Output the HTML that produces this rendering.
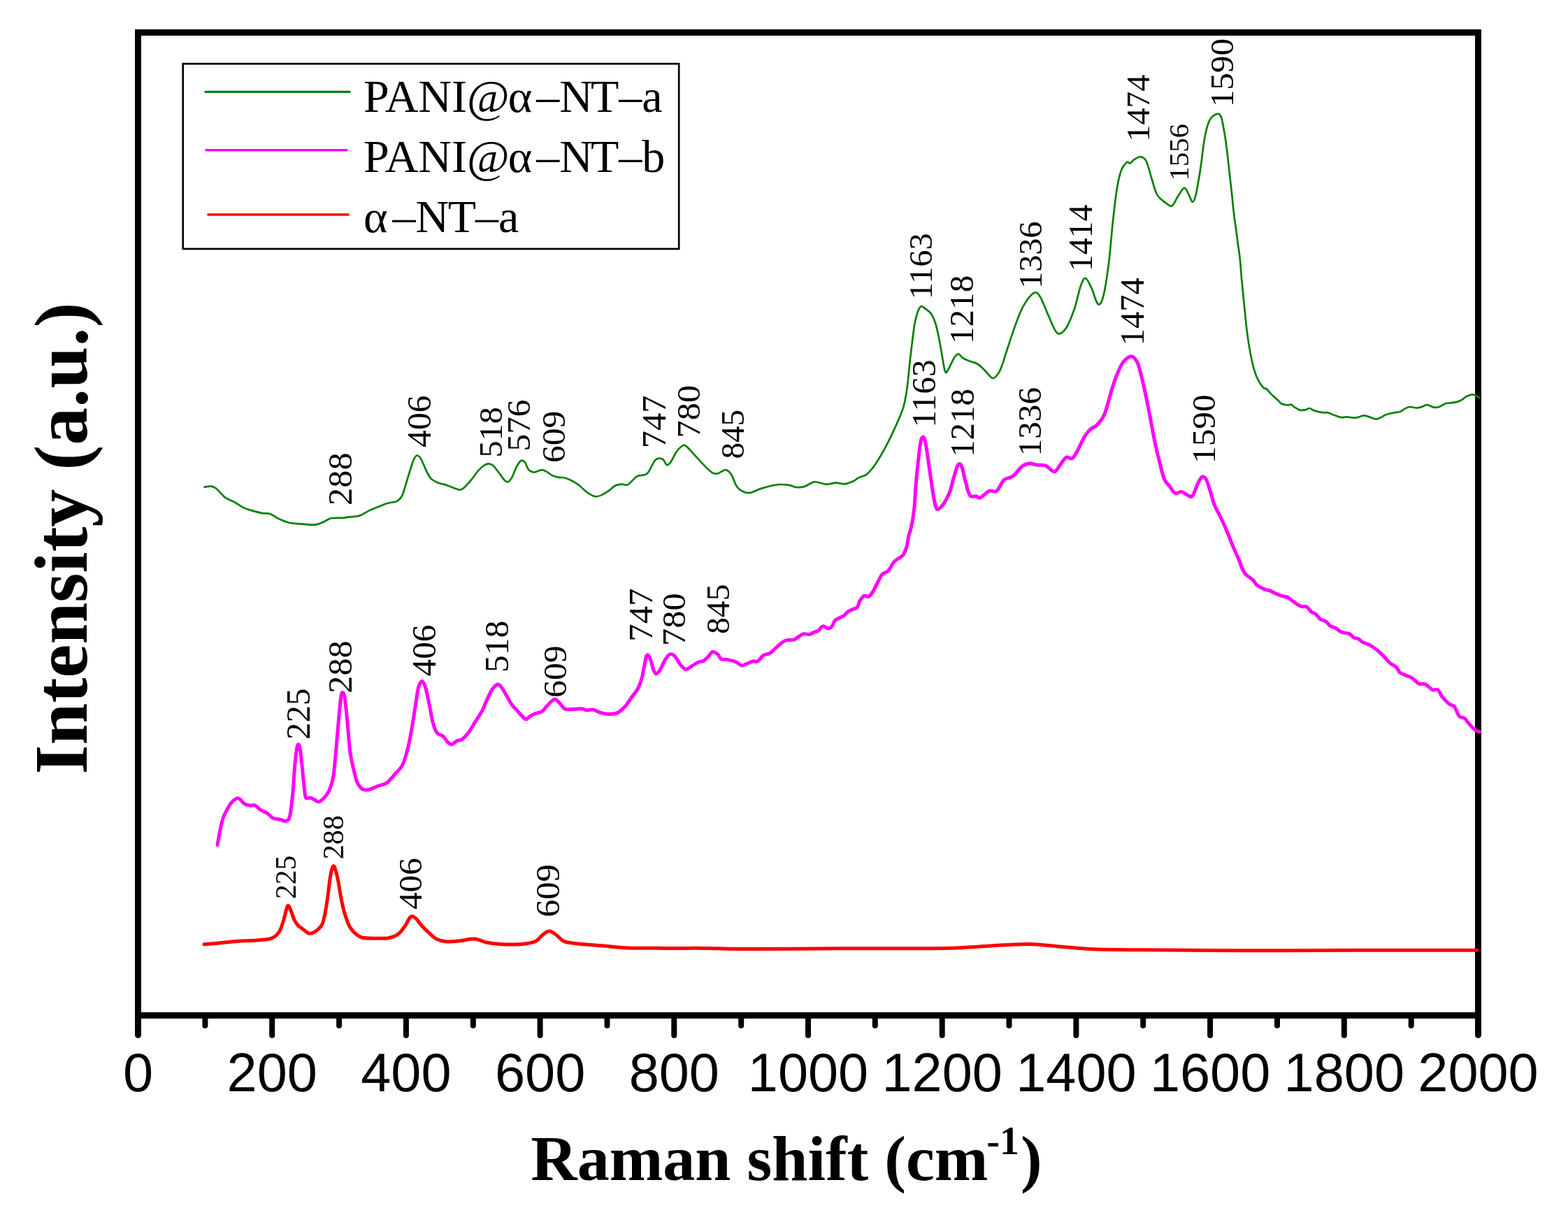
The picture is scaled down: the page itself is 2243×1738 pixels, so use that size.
<!DOCTYPE html>
<html><head><meta charset="utf-8"><title>Raman spectra</title>
<style>
html,body{margin:0;padding:0;background:#fff;}
svg{display:block;}
.tk{font-family:"Liberation Sans",Arial,sans-serif;font-size:77.5px;fill:#000;}
.lb{font-family:"Liberation Serif","Times New Roman",serif;fill:#000;}
.tt{font-family:"Liberation Serif","Times New Roman",serif;font-weight:bold;fill:#000;}
</style></head><body>
<svg width="2243" height="1738" viewBox="0 0 2243 1738">
<rect x="0" y="0" width="2243" height="1738" fill="#fff"/>

<rect x="197.5" y="46.5" width="1917" height="1406" fill="none" stroke="#000" stroke-width="9"/>
<g stroke="#000" stroke-width="8" stroke-linecap="round"><line x1="197.5" y1="1452" x2="197.5" y2="1480.5" stroke-width="9"/><line x1="293.4" y1="1452" x2="293.4" y2="1467" /><line x1="389.2" y1="1452" x2="389.2" y2="1481" /><line x1="485.1" y1="1452" x2="485.1" y2="1467" /><line x1="580.9" y1="1452" x2="580.9" y2="1481" /><line x1="676.8" y1="1452" x2="676.8" y2="1467" /><line x1="772.6" y1="1452" x2="772.6" y2="1481" /><line x1="868.5" y1="1452" x2="868.5" y2="1467" /><line x1="964.3" y1="1452" x2="964.3" y2="1481" /><line x1="1060.2" y1="1452" x2="1060.2" y2="1467" /><line x1="1156.0" y1="1452" x2="1156.0" y2="1481" /><line x1="1251.8" y1="1452" x2="1251.8" y2="1467" /><line x1="1347.7" y1="1452" x2="1347.7" y2="1481" /><line x1="1443.5" y1="1452" x2="1443.5" y2="1467" /><line x1="1539.4" y1="1452" x2="1539.4" y2="1481" /><line x1="1635.2" y1="1452" x2="1635.2" y2="1467" /><line x1="1731.1" y1="1452" x2="1731.1" y2="1481" /><line x1="1827.0" y1="1452" x2="1827.0" y2="1467" /><line x1="1922.8" y1="1452" x2="1922.8" y2="1481" /><line x1="2018.7" y1="1452" x2="2018.7" y2="1467" /><line x1="2114.5" y1="1452" x2="2114.5" y2="1480.5" stroke-width="9"/></g>
<g class="tk"><text x="197.5" y="1561" text-anchor="middle">0</text><text x="389.2" y="1561" text-anchor="middle">200</text><text x="580.9" y="1561" text-anchor="middle">400</text><text x="772.6" y="1561" text-anchor="middle">600</text><text x="964.3" y="1561" text-anchor="middle">800</text><text x="1156.0" y="1561" text-anchor="middle">1000</text><text x="1347.7" y="1561" text-anchor="middle">1200</text><text x="1539.4" y="1561" text-anchor="middle">1400</text><text x="1731.1" y="1561" text-anchor="middle">1600</text><text x="1922.8" y="1561" text-anchor="middle">1800</text><text x="2114.5" y="1561" text-anchor="middle">2000</text></g>
<path d="M291.9,1350.8C294.5,1350.6 301.9,1350.1 307.5,1349.6C313.1,1349.1 319.7,1348.3 325.8,1347.7C331.9,1347.1 338.0,1346.3 344.1,1345.9C350.2,1345.5 356.6,1345.8 362.4,1345.5C368.2,1345.2 374.6,1344.6 378.9,1344.1C383.2,1343.5 385.4,1343.3 388.1,1342.2C390.9,1341.1 393.3,1339.7 395.4,1337.7C397.5,1335.7 399.1,1334.3 400.9,1330.3C402.7,1326.3 405.0,1318.4 406.4,1313.8C407.8,1309.2 408.2,1306.0 409.1,1302.9C410.0,1299.9 410.8,1295.8 411.9,1295.5C413.0,1295.2 414.0,1297.6 415.5,1301.0C417.0,1304.4 419.2,1311.9 421.0,1315.7C422.8,1319.5 424.4,1321.6 426.5,1323.9C428.6,1326.2 431.4,1327.6 433.8,1329.4C436.2,1331.2 438.8,1334.1 441.2,1334.9C443.6,1335.7 446.1,1335.1 448.5,1334.0C450.9,1332.9 453.7,1330.6 455.8,1328.5C457.9,1326.4 459.8,1324.9 461.3,1321.2C462.8,1317.5 463.8,1312.6 465.0,1306.5C466.2,1300.4 467.4,1293.0 468.6,1284.5C469.8,1276.0 471.2,1262.2 472.3,1255.2C473.4,1248.2 474.2,1245.1 475.1,1242.4C476.0,1239.7 476.5,1238.2 477.4,1238.8C478.3,1239.4 479.4,1242.1 480.5,1246.1C481.6,1250.1 483.0,1256.2 484.2,1262.6C485.4,1269.0 486.5,1277.5 487.9,1284.5C489.3,1291.5 490.5,1298.0 492.5,1304.7C494.5,1311.4 497.1,1319.6 499.8,1324.8C502.5,1330.0 505.8,1333.0 508.9,1335.8C511.9,1338.5 513.5,1340.2 518.1,1341.3C522.7,1342.4 530.3,1342.1 536.4,1342.2C542.5,1342.3 549.8,1342.5 554.7,1341.9C559.6,1341.3 562.7,1340.1 565.7,1338.6C568.8,1337.1 570.5,1335.7 573.0,1333.1C575.5,1330.5 577.9,1326.7 580.4,1323.0C582.9,1319.3 585.3,1312.6 587.7,1311.1C590.1,1309.6 592.6,1311.8 595.0,1313.8C597.4,1315.8 599.2,1319.6 602.3,1323.0C605.3,1326.4 609.6,1330.7 613.3,1334.0C617.0,1337.3 620.3,1341.0 624.3,1343.1C628.3,1345.2 631.5,1346.3 637.1,1346.8C642.7,1347.2 651.1,1346.4 658.0,1345.8C664.9,1345.2 671.9,1342.7 678.3,1343.1C684.7,1343.5 690.5,1347.0 696.6,1348.2C702.7,1349.4 708.8,1349.9 714.9,1350.4C721.0,1350.9 727.2,1351.1 733.3,1351.0C739.4,1350.9 746.1,1350.8 751.6,1350.0C757.1,1349.2 762.2,1348.4 766.2,1346.4C770.2,1344.4 772.2,1340.5 775.4,1338.1C778.6,1335.7 782.1,1332.2 785.5,1332.1C788.9,1331.9 792.0,1334.8 795.5,1337.2C799.0,1339.6 801.6,1344.3 806.5,1346.4C811.4,1348.5 815.6,1348.6 824.8,1349.7C834.0,1350.8 849.3,1351.8 861.5,1352.8C873.7,1353.8 882.9,1355.3 898.1,1355.9C913.4,1356.5 934.7,1356.3 953.0,1356.4C971.3,1356.5 990.2,1356.2 1008.0,1356.4C1025.8,1356.6 1028.5,1357.4 1060.0,1357.5C1091.5,1357.6 1157.8,1356.9 1197.0,1356.8C1236.2,1356.7 1266.4,1356.9 1295.0,1356.8C1323.6,1356.7 1348.1,1356.6 1368.5,1355.9C1388.9,1355.2 1400.3,1353.8 1417.5,1352.9C1434.7,1352.0 1455.1,1350.3 1471.4,1350.5C1487.7,1350.7 1500.0,1352.7 1515.5,1353.9C1531.0,1355.1 1544.1,1357.0 1564.5,1357.8C1584.9,1358.6 1601.2,1358.5 1638.0,1358.8C1674.8,1359.1 1736.0,1359.7 1785.0,1359.8C1834.0,1359.9 1877.3,1359.4 1932.0,1359.3C1986.7,1359.2 2083.0,1359.3 2113.2,1359.3" fill="none" stroke="#ff0000" stroke-width="5" stroke-linejoin="round" stroke-linecap="round"/>
<path d="M311.1,1208.5C311.6,1205.7 312.9,1197.3 314.1,1191.4C315.3,1185.5 316.8,1178.0 318.1,1173.3C319.4,1168.6 320.1,1167.3 322.1,1163.3C324.1,1159.3 327.5,1152.7 330.2,1149.2C332.9,1145.7 336.0,1143.2 338.2,1142.2C340.4,1141.2 341.2,1141.9 343.2,1143.2C345.2,1144.5 347.8,1148.7 350.3,1150.2C352.8,1151.7 355.8,1151.9 358.3,1152.2C360.8,1152.5 363.0,1151.2 365.3,1152.2C367.6,1153.2 369.5,1156.5 372.4,1158.3C375.2,1160.1 379.4,1161.3 382.4,1163.3C385.4,1165.3 387.5,1168.8 390.5,1170.3C393.5,1171.8 397.3,1171.6 400.5,1172.3C403.7,1173.0 407.1,1175.1 409.5,1174.3C411.9,1173.5 413.1,1173.5 414.6,1167.3C416.1,1161.1 417.4,1148.9 418.6,1137.2C419.8,1125.5 420.6,1108.0 421.6,1097.0C422.6,1086.0 423.7,1076.3 424.6,1070.9C425.5,1065.5 426.2,1064.5 427.0,1064.8C427.8,1065.1 428.7,1066.9 429.6,1072.9C430.5,1078.9 431.6,1091.3 432.6,1101.0C433.6,1110.7 434.9,1124.4 435.7,1131.1C436.5,1137.8 436.4,1139.5 437.7,1141.2C439.0,1142.9 441.9,1140.9 443.7,1141.2C445.5,1141.5 446.7,1142.3 448.7,1143.2C450.7,1144.1 453.3,1147.0 455.7,1146.8C458.1,1146.6 460.3,1144.8 462.8,1142.2C465.3,1139.6 468.5,1136.3 470.8,1131.1C473.1,1125.9 475.1,1121.0 476.8,1111.0C478.5,1101.0 479.5,1085.3 480.9,1070.9C482.2,1056.5 483.7,1037.1 484.9,1024.7C486.1,1012.3 487.0,1002.2 487.9,996.5C488.8,990.8 489.4,990.2 490.3,990.5C491.2,990.8 492.2,991.5 493.3,998.5C494.4,1005.5 495.6,1019.6 496.9,1032.7C498.2,1045.8 499.5,1065.5 501.0,1076.9C502.5,1088.3 504.3,1094.0 506.0,1101.0C507.7,1108.0 508.8,1114.4 511.0,1119.1C513.2,1123.8 516.0,1127.4 519.0,1129.1C522.0,1130.8 525.4,1129.9 529.1,1129.1C532.8,1128.3 537.1,1125.6 541.1,1124.1C545.1,1122.6 549.2,1122.9 553.2,1120.1C557.2,1117.2 561.5,1111.2 565.2,1107.0C568.9,1102.8 572.3,1101.0 575.3,1095.0C578.3,1089.0 581.0,1080.0 583.3,1070.9C585.6,1061.9 587.4,1051.1 589.3,1040.7C591.1,1030.3 592.9,1018.0 594.4,1008.6C595.9,999.2 596.9,990.2 598.4,984.5C599.9,978.8 601.7,974.7 603.4,974.4C605.1,974.1 606.7,977.5 608.4,982.5C610.1,987.5 611.6,995.9 613.5,1004.6C615.4,1013.3 617.5,1027.3 619.5,1034.7C621.5,1042.1 623.2,1045.8 625.5,1048.8C627.8,1051.8 631.0,1050.6 633.5,1052.8C636.0,1055.0 638.4,1059.8 640.6,1061.8C642.8,1063.8 644.4,1065.1 646.6,1064.8C648.8,1064.5 651.2,1061.0 653.6,1059.8C656.0,1058.6 658.0,1059.6 660.7,1057.8C663.4,1056.0 666.5,1053.0 669.7,1048.8C672.9,1044.6 676.5,1037.9 679.8,1032.7C683.0,1027.5 686.4,1023.0 689.2,1017.8C692.0,1012.6 694.1,1006.5 696.5,1001.3C698.9,996.1 701.4,990.4 703.8,986.7C706.2,983.0 709.0,980.1 711.1,979.3C713.2,978.5 714.5,979.6 716.6,982.1C718.8,984.6 721.5,989.9 724.0,994.0C726.5,998.1 728.9,1003.3 731.3,1006.8C733.7,1010.3 736.2,1012.4 738.6,1015.1C741.0,1017.9 743.6,1021.0 745.9,1023.3C748.2,1025.6 750.1,1028.6 752.3,1028.8C754.4,1029.0 756.5,1025.6 758.8,1024.2C761.1,1022.8 763.4,1021.6 766.1,1020.5C768.8,1019.4 772.5,1019.6 775.2,1017.8C778.0,1016.0 780.2,1012.2 782.6,1009.6C785.0,1007.0 787.9,1003.7 789.9,1002.2C791.9,1000.7 792.7,999.8 794.5,1000.4C796.3,1001.0 798.6,1003.6 800.9,1005.9C803.2,1008.2 805.5,1012.7 808.2,1014.1C811.0,1015.5 813.4,1014.5 817.4,1014.5C821.4,1014.5 828.4,1013.5 832.0,1013.8C835.6,1014.0 836.5,1015.8 839.3,1016.0C842.0,1016.2 845.1,1014.5 848.5,1015.1C851.9,1015.7 855.8,1018.5 859.5,1019.6C863.2,1020.7 866.5,1021.5 870.5,1021.5C874.5,1021.5 879.3,1021.4 883.3,1019.6C887.3,1017.8 890.9,1014.1 894.3,1010.5C897.6,1006.9 900.3,1002.0 903.4,997.7C906.5,993.4 910.1,989.4 912.6,984.8C915.1,980.2 916.6,975.7 918.1,970.2C919.6,964.7 920.7,957.1 921.8,951.9C922.9,946.7 923.6,941.5 924.5,939.0C925.4,936.5 926.2,936.3 927.3,937.2C928.4,938.1 929.7,941.1 930.9,944.5C932.1,947.9 933.4,954.2 934.6,957.4C935.8,960.6 936.7,963.5 938.2,963.8C939.7,964.1 941.6,962.4 943.7,959.2C945.9,956.0 948.8,948.3 951.1,944.5C953.4,940.7 955.4,937.5 957.5,936.3C959.6,935.1 961.9,935.8 963.9,937.2C965.9,938.6 967.6,941.9 969.4,944.5C971.2,947.1 972.9,950.6 974.9,952.8C976.9,954.9 978.9,957.4 981.3,957.4C983.7,957.4 986.6,954.5 989.5,952.8C992.4,951.1 996.0,948.5 998.7,947.3C1001.5,946.1 1003.6,946.9 1006.0,945.5C1008.4,944.1 1011.2,941.1 1013.3,939.0C1015.4,936.9 1016.6,933.2 1018.8,932.6C1020.9,932.0 1024.1,933.7 1026.2,935.4C1028.3,937.1 1029.2,941.3 1031.6,942.7C1034.0,944.1 1037.4,943.0 1040.8,943.6C1044.2,944.2 1048.4,945.0 1051.8,946.4C1055.2,947.8 1058.2,951.3 1060.9,951.9C1063.6,952.5 1065.0,950.7 1067.7,949.7C1070.4,948.7 1074.2,946.5 1076.9,945.9C1079.6,945.3 1081.2,947.3 1083.8,945.9C1086.4,944.5 1089.3,939.3 1092.3,937.4C1095.2,935.5 1098.7,936.0 1101.5,934.4C1104.3,932.8 1106.6,929.8 1109.2,927.5C1111.8,925.2 1114.4,922.4 1116.9,920.5C1119.5,918.6 1121.4,916.8 1124.5,915.9C1127.6,915.0 1132.2,916.1 1135.3,915.2C1138.4,914.3 1140.7,911.9 1143.0,910.5C1145.3,909.1 1146.5,907.2 1149.1,906.7C1151.7,906.2 1155.8,907.9 1158.4,907.5C1161.0,907.1 1162.5,905.3 1164.5,904.4C1166.5,903.5 1168.5,903.5 1170.6,902.1C1172.6,900.7 1174.3,896.4 1176.8,895.9C1179.2,895.4 1183.0,899.1 1185.3,899.0C1187.6,898.9 1189.1,897.1 1190.6,895.2C1192.1,893.3 1192.7,889.4 1194.5,887.5C1196.3,885.6 1199.2,884.8 1201.4,883.6C1203.6,882.5 1205.5,882.1 1207.5,880.6C1209.5,879.1 1211.5,875.9 1213.7,874.4C1215.9,872.9 1218.4,872.4 1220.6,871.4C1222.8,870.4 1225.2,870.2 1226.7,868.3C1228.2,866.4 1228.1,862.5 1229.8,859.8C1231.5,857.1 1234.7,853.1 1236.7,852.1C1238.8,851.1 1240.0,854.7 1242.1,853.7C1244.1,852.7 1246.8,849.3 1249.0,846.0C1251.2,842.7 1253.0,837.8 1255.2,833.7C1257.4,829.6 1259.5,824.2 1262.1,821.4C1264.6,818.6 1267.8,819.6 1270.5,816.8C1273.2,814.0 1275.6,807.6 1278.2,804.5C1280.8,801.4 1283.6,800.2 1285.9,798.4C1288.2,796.6 1290.3,796.3 1292.1,793.7C1293.9,791.1 1295.4,787.4 1296.7,783.0C1298.0,778.6 1298.7,772.0 1299.7,767.6C1300.7,763.2 1301.8,761.2 1302.8,756.9C1303.8,752.5 1305.0,747.1 1305.9,741.5C1306.8,735.9 1307.6,730.0 1308.2,723.1C1308.8,716.2 1309.1,708.1 1309.7,700.0C1310.3,691.9 1310.8,685.5 1311.9,674.6C1313.1,663.7 1315.2,642.7 1316.6,634.4C1318.0,626.1 1318.9,625.4 1320.1,625.0C1321.3,624.6 1322.3,625.7 1323.7,632.0C1325.1,638.3 1326.6,651.0 1328.4,662.8C1330.2,674.6 1332.6,692.7 1334.3,703.0C1336.0,713.3 1337.1,720.6 1338.5,724.7C1339.9,728.9 1340.7,729.0 1342.8,727.9C1344.9,726.8 1348.6,722.4 1351.3,718.3C1354.0,714.2 1356.6,709.1 1358.7,703.4C1360.8,697.7 1362.0,690.7 1364.0,684.3C1366.0,677.9 1368.5,668.0 1370.4,665.1C1372.4,662.2 1373.9,663.3 1375.7,667.2C1377.5,671.1 1379.1,681.6 1381.1,688.5C1383.0,695.4 1384.9,705.2 1387.4,708.7C1389.9,712.2 1393.5,709.3 1396.0,709.8C1398.5,710.3 1399.1,713.1 1402.3,711.9C1405.5,710.6 1411.2,703.9 1415.1,702.3C1419.0,700.7 1422.2,704.9 1425.7,702.3C1429.2,699.6 1432.5,689.9 1436.4,686.4C1440.3,682.9 1444.8,684.3 1449.1,681.1C1453.3,677.9 1458.0,670.2 1461.9,667.2C1465.8,664.2 1469.0,663.4 1472.6,663.0C1476.1,662.6 1479.3,664.6 1483.2,665.1C1487.1,665.6 1491.9,664.6 1496.0,666.2C1500.1,667.8 1504.5,674.5 1507.7,674.7C1510.9,674.9 1512.3,670.6 1515.1,667.2C1517.9,663.8 1521.5,656.5 1524.7,654.5C1527.9,652.5 1531.3,657.6 1534.3,655.5C1537.3,653.4 1540.0,646.8 1542.8,641.7C1545.6,636.6 1548.5,629.3 1551.3,624.7C1554.1,620.1 1557.0,616.7 1559.8,614.0C1562.6,611.3 1565.1,611.9 1568.3,608.7C1571.5,605.5 1576.1,600.4 1578.9,594.9C1581.7,589.4 1583.3,582.1 1585.3,575.7C1587.2,569.3 1588.5,563.3 1590.6,556.6C1592.7,549.9 1595.4,541.7 1598.1,535.3C1600.8,528.9 1603.2,522.5 1606.6,518.3C1610.0,514.0 1614.9,509.8 1618.3,509.8C1621.7,509.8 1624.5,514.0 1626.8,518.3C1629.1,522.5 1630.1,527.8 1632.1,535.3C1634.0,542.8 1636.4,553.1 1638.5,563.0C1640.6,572.9 1642.8,583.9 1644.9,594.9C1647.0,605.9 1649.2,618.6 1651.3,628.9C1653.4,639.2 1655.4,647.4 1657.7,656.6C1660.0,665.8 1662.6,677.9 1665.1,684.3C1667.6,690.7 1669.9,691.4 1672.6,694.9C1675.3,698.4 1678.3,704.1 1681.1,705.5C1683.9,706.9 1686.8,703.0 1689.6,703.4C1692.4,703.8 1695.4,706.6 1698.1,707.7C1700.8,708.8 1703.0,712.3 1705.5,709.8C1708.0,707.3 1710.7,697.4 1713.0,692.8C1715.3,688.2 1717.3,683.2 1719.4,682.1C1721.5,681.0 1723.6,682.5 1725.7,686.4C1727.8,690.3 1730.1,699.5 1732.1,705.5C1734.0,711.5 1734.9,716.6 1737.4,722.6C1739.9,728.6 1744.0,735.3 1747.0,741.7C1750.0,748.1 1752.7,754.2 1755.5,760.9C1758.3,767.6 1761.2,775.4 1764.0,782.1C1766.8,788.8 1770.5,796.3 1772.6,801.3C1774.7,806.3 1774.8,808.6 1776.4,812.0C1778.0,815.4 1779.3,818.7 1782.0,821.6C1784.7,824.5 1789.7,827.1 1792.4,829.6C1795.1,832.1 1795.0,834.6 1798.0,836.9C1801.0,839.2 1807.0,842.0 1810.1,843.3C1813.2,844.6 1814.1,844.0 1816.5,844.9C1818.9,845.8 1821.6,847.6 1824.5,848.9C1827.4,850.2 1831.2,851.7 1834.1,852.6C1837.0,853.5 1839.2,853.0 1842.1,854.5C1845.0,856.0 1848.5,859.6 1851.7,861.7C1854.9,863.8 1858.3,866.2 1861.3,867.3C1864.2,868.4 1867.0,866.8 1869.4,868.1C1871.8,869.4 1873.7,873.6 1875.8,875.3C1877.9,877.0 1880.1,876.8 1882.2,878.5C1884.3,880.2 1886.2,884.0 1888.6,885.7C1891.0,887.4 1894.2,887.3 1896.6,888.9C1899.0,890.5 1900.6,893.8 1903.0,895.4C1905.4,897.0 1908.3,897.1 1911.0,898.6C1913.7,900.1 1915.8,902.9 1919.0,904.2C1922.2,905.5 1927.3,905.3 1930.3,906.6C1933.2,907.9 1934.6,911.0 1936.7,912.2C1938.8,913.4 1941.0,912.7 1943.1,913.8C1945.2,914.9 1947.1,917.3 1949.5,918.6C1951.9,919.9 1954.8,920.5 1957.5,921.8C1960.2,923.1 1962.6,924.5 1965.5,926.6C1968.4,928.7 1972.4,932.2 1975.1,934.6C1977.8,937.0 1979.3,938.7 1981.5,941.0C1983.7,943.3 1985.3,945.9 1988.0,948.2C1990.7,950.5 1995.2,952.3 1997.6,954.6C2000.0,956.9 2000.3,960.0 2002.4,961.9C2004.5,963.8 2007.5,964.6 2010.4,965.9C2013.3,967.2 2016.8,967.9 2020.0,969.9C2023.2,971.9 2026.4,976.4 2029.6,977.9C2032.8,979.4 2036.0,977.2 2039.2,978.7C2042.4,980.2 2045.9,985.4 2048.8,986.7C2051.8,988.0 2054.5,985.0 2056.9,986.7C2059.3,988.4 2060.6,993.8 2063.3,997.1C2066.0,1000.4 2070.0,1004.3 2072.9,1006.7C2075.8,1009.1 2078.5,1008.5 2080.9,1011.5C2083.3,1014.5 2084.9,1021.7 2087.3,1024.4C2089.7,1027.1 2092.9,1025.7 2095.3,1027.6C2097.7,1029.5 2099.3,1032.9 2101.7,1035.6C2104.1,1038.3 2107.3,1041.7 2109.7,1043.6C2112.1,1045.5 2115.1,1046.3 2116.2,1046.8" fill="none" stroke="#ff00ff" stroke-width="5" stroke-linejoin="round" stroke-linecap="round"/>
<path d="M292.5,696.6C294.1,696.4 299.2,695.2 302.0,695.6C304.8,696.0 305.9,696.1 309.3,698.8C312.7,701.5 317.8,708.4 322.1,711.6C326.4,714.8 330.7,715.6 335.0,718.0C339.3,720.4 343.8,723.9 347.8,725.9C351.8,727.9 354.2,728.5 358.8,729.9C363.4,731.3 370.6,733.2 375.2,734.1C379.8,735.0 382.2,733.6 386.2,735.0C390.2,736.4 394.4,740.2 399.0,742.3C403.6,744.4 409.1,746.6 413.7,747.7C418.3,748.8 421.9,748.7 426.5,749.1C431.1,749.5 436.9,750.2 441.2,750.4C445.5,750.6 448.5,751.1 452.2,750.4C455.9,749.7 459.5,747.9 463.2,746.4C466.9,744.9 469.5,742.1 474.1,741.2C478.7,740.3 486.3,741.2 490.6,740.9C494.9,740.6 495.8,739.9 499.8,739.4C503.8,738.9 509.5,739.2 514.4,737.6C519.3,736.0 524.2,732.2 529.1,729.9C534.0,727.6 539.4,725.7 543.7,724.0C548.0,722.3 550.7,720.9 554.7,719.8C558.7,718.6 564.1,718.8 567.5,717.1C570.9,715.4 572.8,713.7 574.9,709.7C577.0,705.7 578.3,700.0 580.4,693.3C582.5,686.6 585.7,675.6 587.7,669.5C589.7,663.4 590.8,659.6 592.3,656.6C593.8,653.6 594.8,651.5 596.5,651.5C598.2,651.5 600.1,653.0 602.3,656.6C604.5,660.2 607.4,668.5 609.7,673.1C612.0,677.7 613.4,681.2 616.1,684.1C618.9,687.0 623.0,689.0 626.2,690.5C629.4,692.0 631.9,691.8 635.3,692.9C638.6,694.0 642.6,695.6 646.3,696.9C650.0,698.2 654.2,700.6 657.3,700.6C660.3,700.6 661.7,699.4 664.6,696.9C667.5,694.4 671.5,689.5 674.7,685.6C677.9,681.7 680.9,677.0 683.8,673.7C686.7,670.4 689.5,667.7 692.0,666.0C694.5,664.3 696.4,663.4 698.5,663.3C700.6,663.2 702.5,663.5 704.9,665.5C707.3,667.5 710.4,672.0 713.1,675.5C715.9,679.0 719.1,684.2 721.4,686.5C723.7,688.8 725.0,689.9 726.8,689.3C728.6,688.7 730.3,686.4 732.3,682.9C734.3,679.4 736.6,672.2 738.8,668.2C740.9,664.2 743.2,660.2 745.2,659.0C747.2,657.8 748.9,658.8 750.7,660.9C752.5,663.0 754.1,669.5 756.2,671.9C758.3,674.3 761.2,675.2 763.5,675.5C765.8,675.8 767.9,674.2 769.9,673.7C771.9,673.2 773.4,672.1 775.4,672.2C777.4,672.4 779.4,673.3 781.8,674.6C784.2,675.9 787.1,678.7 790.0,680.1C792.9,681.5 796.5,682.4 799.2,682.9C802.0,683.4 803.8,682.6 806.5,683.2C809.2,683.8 812.3,684.9 815.7,686.5C819.1,688.1 823.7,690.8 826.7,692.9C829.8,695.0 831.2,697.0 834.0,699.3C836.8,701.6 840.2,704.9 843.2,706.7C846.2,708.5 849.2,710.1 852.3,710.3C855.3,710.4 858.5,709.0 861.5,707.6C864.5,706.2 867.6,704.2 870.6,702.1C873.6,700.0 876.8,696.4 879.8,694.8C882.8,693.2 886.0,692.8 888.9,692.6C891.8,692.4 894.8,694.5 897.2,693.8C899.7,693.1 901.2,690.5 903.6,688.4C906.0,686.3 908.8,682.5 911.8,681.0C914.8,679.5 919.3,680.1 921.9,679.2C924.5,678.3 924.9,678.9 927.4,675.5C929.9,672.1 934.1,662.3 936.6,659.0C939.1,655.7 940.1,656.1 942.1,655.8C944.1,655.5 946.5,655.7 948.5,657.2C950.5,658.8 952.2,664.5 954.0,665.1C955.8,665.7 957.2,664.0 959.5,660.9C961.8,657.8 964.8,650.1 967.7,646.2C970.6,642.3 974.4,638.6 976.8,637.4C979.2,636.2 979.2,636.4 982.3,638.9C985.4,641.4 990.9,648.0 995.2,652.6C999.5,657.2 1004.0,662.4 1008.0,666.4C1012.0,670.4 1016.0,674.6 1019.0,676.4C1022.0,678.2 1023.9,677.8 1026.3,677.4C1028.7,677.0 1031.5,674.6 1033.6,673.7C1035.7,672.8 1037.0,671.3 1039.1,672.2C1041.2,673.1 1044.0,675.3 1046.4,679.2C1048.9,683.1 1051.1,691.7 1053.8,695.7C1056.5,699.7 1059.3,701.5 1062.5,703.0C1065.7,704.5 1069.0,705.5 1073.1,704.9C1077.2,704.3 1082.2,701.1 1087.3,699.4C1092.4,697.7 1099.1,695.8 1103.8,694.7C1108.5,693.6 1111.4,693.1 1115.7,693.0C1120.0,692.9 1125.9,693.5 1129.8,694.2C1133.7,694.9 1135.8,696.8 1139.3,697.1C1142.8,697.4 1146.8,697.2 1151.1,695.9C1155.4,694.6 1160.2,689.8 1165.3,689.3C1170.4,688.8 1176.7,692.6 1181.8,692.8C1186.9,693.0 1191.7,690.8 1196.0,690.7C1200.3,690.6 1203.8,692.6 1207.8,692.3C1211.8,692.0 1216.2,690.4 1219.7,688.8C1223.2,687.2 1225.9,684.5 1229.1,682.9C1232.2,681.3 1235.4,681.5 1238.6,679.3C1241.8,677.1 1244.8,673.8 1248.0,669.9C1251.2,666.0 1254.3,660.8 1257.5,655.7C1260.7,650.6 1263.8,645.0 1267.0,639.1C1270.2,633.2 1273.2,626.9 1276.4,620.2C1279.6,613.5 1283.1,605.7 1285.9,599.0C1288.7,592.3 1291.0,587.5 1293.0,580.0C1295.0,572.5 1296.3,563.9 1297.7,554.0C1299.1,544.1 1300.0,531.5 1301.2,520.9C1302.4,510.3 1303.6,499.6 1304.8,490.2C1306.0,480.8 1306.9,471.7 1308.3,464.2C1309.7,456.7 1311.5,449.6 1313.1,445.3C1314.7,441.0 1316.0,438.8 1317.8,438.2C1319.6,437.6 1321.3,439.9 1323.7,441.7C1326.1,443.5 1329.6,445.4 1332.0,448.8C1334.4,452.2 1336.1,456.5 1337.9,461.8C1339.7,467.1 1341.0,473.3 1342.6,480.8C1344.2,488.3 1345.7,498.3 1347.3,506.8C1348.9,515.3 1350.5,528.1 1352.1,531.6C1353.7,535.1 1354.6,531.4 1356.8,528.0C1359.0,524.6 1362.7,515.1 1365.1,511.5C1367.5,507.9 1368.8,506.1 1371.0,506.3C1373.2,506.5 1375.3,511.0 1378.1,512.7C1380.8,514.4 1384.2,515.4 1387.5,516.7C1390.8,518.0 1394.7,518.3 1398.2,520.5C1401.8,522.7 1405.2,526.5 1408.8,529.9C1412.4,533.3 1416.8,540.5 1420.1,541.0C1423.4,541.5 1426.5,536.5 1428.9,532.8C1431.4,529.1 1433.2,522.9 1434.8,518.6C1436.4,514.3 1435.8,515.1 1438.4,507.0C1441.1,498.9 1446.6,481.4 1450.7,470.1C1454.8,458.8 1458.4,447.8 1463.0,439.4C1467.6,430.9 1474.3,422.0 1478.4,419.4C1482.5,416.8 1484.0,418.6 1487.6,424.0C1491.2,429.4 1495.8,443.0 1499.9,451.7C1504.0,460.4 1508.1,473.2 1512.2,476.3C1516.3,479.4 1520.4,475.7 1524.5,470.1C1528.6,464.5 1533.1,452.7 1536.7,442.5C1540.3,432.3 1543.3,416.1 1546.0,408.7C1548.7,401.3 1550.2,397.4 1552.7,397.9C1555.2,398.4 1558.3,405.5 1561.3,411.7C1564.3,417.9 1567.7,432.8 1570.5,434.8C1573.3,436.9 1575.6,433.5 1578.2,424.0C1580.8,414.5 1583.6,395.8 1585.9,377.9C1588.2,360.0 1590.0,334.9 1592.0,316.5C1594.0,298.1 1596.2,279.6 1598.2,267.3C1600.2,255.0 1602.0,248.7 1604.3,242.8C1606.6,236.9 1610.0,233.6 1612.0,232.0C1614.0,230.4 1614.8,234.2 1616.6,233.5C1618.4,232.8 1620.2,229.5 1622.8,228.0C1625.4,226.5 1629.2,223.9 1632.0,224.3C1634.8,224.7 1637.2,225.4 1639.7,230.5C1642.2,235.6 1644.8,247.1 1647.3,255.0C1649.8,262.9 1651.9,272.5 1655.0,278.1C1658.1,283.7 1662.2,286.1 1665.8,288.8C1669.4,291.5 1673.2,295.9 1676.5,294.4C1679.8,292.9 1682.7,283.9 1685.7,279.6C1688.7,275.4 1691.7,268.9 1694.3,268.9C1696.9,268.9 1699.2,276.3 1701.1,279.6C1703.0,282.9 1704.4,288.8 1705.9,288.9C1707.4,289.0 1708.8,285.4 1710.3,280.0C1711.8,274.6 1713.4,264.3 1714.8,256.4C1716.2,248.5 1717.4,240.7 1718.5,232.8C1719.6,224.9 1720.4,216.0 1721.4,209.1C1722.4,202.2 1723.3,196.7 1724.4,191.4C1725.5,186.1 1726.8,181.1 1728.1,177.3C1729.4,173.5 1730.8,170.7 1732.5,168.5C1734.2,166.3 1736.6,164.9 1738.4,164.0C1740.2,163.1 1742.1,162.2 1743.6,163.0C1745.1,163.8 1746.2,165.2 1747.3,168.5C1748.4,171.8 1749.2,177.2 1750.2,182.5C1751.2,187.8 1752.2,193.3 1753.2,200.2C1754.2,207.1 1755.2,215.5 1756.2,223.9C1757.2,232.3 1758.1,241.6 1759.1,250.5C1760.1,259.4 1761.1,268.0 1762.1,277.1C1763.1,286.2 1764.0,296.8 1765.0,305.2C1766.0,313.6 1767.0,319.9 1768.0,327.3C1769.0,334.7 1769.9,342.1 1770.9,349.5C1771.9,356.9 1773.1,363.7 1773.9,371.7C1774.8,379.7 1775.3,390.4 1776.0,397.7C1776.7,405.0 1777.2,409.6 1777.8,415.5C1778.4,421.4 1778.9,427.3 1779.5,433.2C1780.1,439.1 1780.7,445.0 1781.3,450.9C1781.9,456.8 1782.4,462.7 1783.1,468.6C1783.8,474.5 1784.7,481.1 1785.5,486.4C1786.3,491.7 1786.9,495.6 1787.8,500.5C1788.7,505.4 1789.8,511.4 1790.8,515.9C1791.8,520.4 1792.6,524.0 1793.7,527.7C1794.8,531.4 1796.1,535.3 1797.3,538.3C1798.5,541.2 1799.5,543.1 1800.8,545.4C1802.1,547.7 1803.7,550.2 1805.0,551.9C1806.3,553.6 1807.4,554.8 1808.5,555.5C1809.6,556.2 1810.1,555.1 1811.4,556.1C1812.7,557.1 1814.4,559.5 1816.2,561.4C1818.0,563.3 1820.1,565.4 1822.1,567.3C1824.1,569.2 1826.1,570.9 1828.0,572.6C1829.9,574.4 1831.3,576.7 1833.7,577.8C1836.1,578.9 1840.1,579.1 1842.3,579.3C1844.5,579.5 1845.4,578.3 1846.9,578.8C1848.5,579.3 1849.5,581.0 1851.6,582.3C1853.7,583.6 1856.8,585.9 1859.4,586.6C1862.0,587.3 1864.9,586.7 1867.2,586.3C1869.5,585.9 1871.3,583.9 1873.4,584.0C1875.5,584.1 1876.5,586.1 1879.6,587.1C1882.7,588.1 1888.7,589.7 1892.1,590.2C1895.5,590.7 1897.3,589.6 1899.9,590.2C1902.5,590.8 1904.5,592.5 1907.6,593.6C1910.7,594.8 1915.4,596.6 1918.5,597.1C1921.6,597.6 1923.4,596.3 1926.3,596.4C1929.2,596.5 1933.1,597.4 1935.7,597.5C1938.3,597.6 1939.3,597.6 1941.9,597.1C1944.5,596.6 1948.1,594.4 1951.2,594.4C1954.3,594.4 1957.7,596.2 1960.6,597.1C1963.5,598.0 1966.1,599.5 1968.4,599.6C1970.7,599.7 1972.3,598.5 1974.6,597.5C1976.9,596.5 1979.3,594.5 1982.4,593.3C1985.5,592.1 1989.9,591.2 1993.3,590.5C1996.7,589.8 2000.0,589.9 2002.6,589.0C2005.2,588.1 2006.5,586.3 2008.8,585.1C2011.1,583.9 2013.7,582.3 2016.6,582.0C2019.5,581.7 2023.2,583.5 2026.0,583.5C2028.8,583.5 2031.1,582.7 2033.7,582.0C2036.3,581.3 2038.6,579.1 2041.5,579.2C2044.4,579.3 2048.1,582.2 2050.9,582.7C2053.8,583.2 2055.8,582.9 2058.6,582.0C2061.4,581.1 2064.9,578.3 2068.0,577.3C2071.1,576.3 2074.5,576.7 2077.3,576.2C2080.2,575.8 2082.8,575.3 2085.1,574.6C2087.4,573.9 2089.2,573.0 2091.3,571.8C2093.4,570.6 2095.3,568.4 2097.6,567.2C2099.9,566.0 2103.2,564.7 2105.3,564.4C2107.4,564.1 2108.2,564.5 2110.0,565.3C2111.8,566.1 2115.2,568.4 2116.2,569.0" fill="none" stroke="#008000" stroke-width="2.7" stroke-linejoin="round" stroke-linecap="round"/>
<rect x="261.7" y="91.2" width="709.5" height="264.8" fill="none" stroke="#000" stroke-width="2.7"/>
<line x1="294" y1="131.3" x2="500" y2="131.3" stroke="#008000" stroke-width="3.2" stroke-linecap="round"/>
<line x1="295" y1="214.8" x2="496" y2="214.8" stroke="#ff00ff" stroke-width="3.6" stroke-linecap="round"/>
<line x1="298" y1="307" x2="498" y2="307" stroke="#ff0000" stroke-width="3.7" stroke-linecap="round"/>
<g class="lb" style="font-size:66px"><text x="520" y="159.9">PANI@<tspan dx="-2">α</tspan><tspan dx="6">–N</tspan><tspan dx="-3">T–a</tspan></text><text x="520" y="245.6">PANI@<tspan dx="-2">α</tspan><tspan dx="6">–N</tspan><tspan dx="-3">T–b</tspan></text><text x="520" y="331.5">α<tspan dx="7">–N</tspan><tspan dx="-1.5">T</tspan><tspan dx="-1">–a</tspan></text></g>
<g class="lb"><text transform="translate(503.3,722.9) rotate(-90) scale(1.049,1)" style="font-size:48.0px">288</text><text transform="translate(615.5,639.9) rotate(-90) scale(1.043,1)" style="font-size:47.6px">406</text><text transform="translate(717.7,654.5) rotate(-90) scale(1.017,1)" style="font-size:47.4px">518</text><text transform="translate(757.5,645.5) rotate(-90) scale(1.045,1)" style="font-size:47.2px">576</text><text transform="translate(808.2,662.1) rotate(-90) scale(1.062,1)" style="font-size:46.7px">609</text><text transform="translate(952.2,641.3) rotate(-90) scale(1.049,1)" style="font-size:48.2px">747</text><text transform="translate(1000.5,626.4) rotate(-90) scale(1.070,1)" style="font-size:47.1px">780</text><text transform="translate(1063.5,656.6) rotate(-90) scale(0.998,1)" style="font-size:47.3px">845</text><text transform="translate(1332.6,428.2) rotate(-90) scale(1.017,1)" style="font-size:47.5px">1163</text><text transform="translate(1391.7,492.1) rotate(-90) scale(1.018,1)" style="font-size:48.3px">1218</text><text transform="translate(1489.5,412.9) rotate(-90) scale(1.025,1)" style="font-size:47.0px">1336</text><text transform="translate(1561.5,388.2) rotate(-90) scale(1.003,1)" style="font-size:47.6px">1414</text><text transform="translate(1644.4,202.4) rotate(-90) scale(1.027,1)" style="font-size:46.5px">1474</text><text transform="translate(1699.8,258.6) rotate(-90) scale(1.027,1)" style="font-size:39.7px">1556</text><text transform="translate(1764.2,153.3) rotate(-90) scale(1.060,1)" style="font-size:46.4px">1590</text><text transform="translate(442.6,1058.0) rotate(-90) scale(1.008,1)" style="font-size:48.5px">225</text><text transform="translate(502.9,991.7) rotate(-90) scale(1.041,1)" style="font-size:48.3px">288</text><text transform="translate(622.6,967.4) rotate(-90) scale(1.026,1)" style="font-size:48.0px">406</text><text transform="translate(726.8,962.1) rotate(-90) scale(1.036,1)" style="font-size:47.9px">518</text><text transform="translate(809.5,997.9) rotate(-90) scale(1.050,1)" style="font-size:47.4px">609</text><text transform="translate(932.6,917.7) rotate(-90) scale(1.032,1)" style="font-size:49.2px">747</text><text transform="translate(980.2,924.0) rotate(-90) scale(1.070,1)" style="font-size:47.1px">780</text><text transform="translate(1042.5,907.0) rotate(-90) scale(1.008,1)" style="font-size:47.3px">845</text><text transform="translate(1337.8,611.6) rotate(-90) scale(1.006,1)" style="font-size:49.3px">1163</text><text transform="translate(1392.9,654.1) rotate(-90) scale(1.003,1)" style="font-size:49.0px">1218</text><text transform="translate(1488.6,652.4) rotate(-90) scale(1.037,1)" style="font-size:47.5px">1336</text><text transform="translate(1636.1,494.2) rotate(-90) scale(0.990,1)" style="font-size:48.9px">1474</text><text transform="translate(1737.6,663.0) rotate(-90) scale(1.044,1)" style="font-size:47.3px">1590</text><text transform="translate(422.8,1286.0) rotate(-90) scale(0.990,1)" style="font-size:42.0px">225</text><text transform="translate(490.6,1229.3) rotate(-90) scale(1.022,1)" style="font-size:41.2px">288</text><text transform="translate(603.3,1301.1) rotate(-90) scale(1.049,1)" style="font-size:47.0px">406</text><text transform="translate(799.6,1311.9) rotate(-90) scale(1.060,1)" style="font-size:47.6px">609</text></g>
<text class="tt" transform="translate(124,1107.7) rotate(-90)" style="font-size:108px">Intensity (a.u.)</text>
<text class="tt" x="759.3" y="1687.9" style="font-size:92px">Raman shift (cm<tspan dx="-2" dy="-37" style="font-size:56px">-1</tspan><tspan dx="2" dy="37">)</tspan></text>
</svg></body></html>
